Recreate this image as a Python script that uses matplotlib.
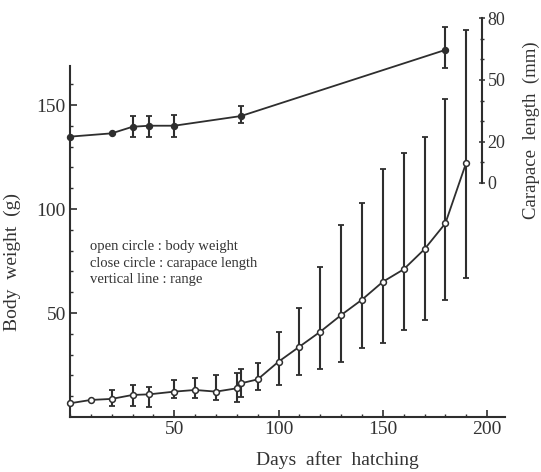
import numpy as np
import matplotlib.pyplot as plt
from matplotlib.ticker import MultipleLocator, FixedLocator

plt.rcParams['font.family'] = ['Liberation Serif', 'DejaVu Serif']

# body weight (open circles), g
bw_days = [0, 10, 20, 30, 38, 50, 60, 70, 80, 82, 90, 100, 110, 120, 130, 140, 150, 160, 170, 180, 190]
bw_mean = [6.6, 8.2, 8.7, 10.6, 10.9, 12.2, 13.0, 12.2, 13.8, 16.2, 18.1, 26.6, 33.8, 41.0, 49.0,
           56.4, 65.0, 71.0, 80.7, 93.1, 122.3]
bw_hi = [np.nan, np.nan, 13.0, 15.4, 14.3, 17.8, 18.6, 20.2, 21.0, 22.9, 26.1, 41.0, 52.3, 72.3, 92.3,
         102.7, 119.1, 126.8, 134.8, 152.7, 186.1]
bw_lo = [np.nan, np.nan, 5.3, 5.3, 5.0, 9.1, 9.0, 8.2, 7.4, 9.8, 13.0, 15.4, 20.2, 22.9, 26.6,
         33.0, 35.4, 41.8, 46.6, 56.3, 66.7]

# carapace length (close circles), mm
cl_days = [0, 20, 30, 38, 50, 82, 180]
cl_mean = [22.5, 24.1, 27.3, 27.8, 27.8, 32.5, 64.6]
cl_hi = [np.nan, np.nan, 32.5, 32.5, 33.1, 37.4, 75.9]
cl_lo = [np.nan, np.nan, 22.2, 22.3, 22.4, 29.0, 55.7]

ink = '#2e2e2e'
txt = '#333333'

fig = plt.figure(figsize=(5.41, 4.72), dpi=100, facecolor='white')
ax = fig.add_axes([70 / 541, 55 / 472, 435 / 541, 402 / 472])
ax.set_xlim(0, 208.6)
ax.set_ylim(0, 193.3)
ax.patch.set_alpha(0)

def plot_series(a, days, mean, lo, hi, face):
    days = np.array(days, float)
    mean = np.array(mean, float)
    lo = np.array(lo, float)
    hi = np.array(hi, float)
    a.plot(days, mean, color=ink, lw=1.3, zorder=2)
    ok = ~np.isnan(lo)
    a.errorbar(days[ok], mean[ok], yerr=[mean[ok] - lo[ok], hi[ok] - mean[ok]], fmt='none',
               ecolor=ink, elinewidth=1.5, capsize=2.5, capthick=1.3, zorder=1, clip_on=False)
    a.plot(days, mean, 'o', ms=4.2, mfc=face, mec=ink, mew=1.1, zorder=3, clip_on=False)

plot_series(ax, bw_days, bw_mean, bw_lo, bw_hi, 'white')

for s in ['top', 'right']:
    ax.spines[s].set_visible(False)
ax.spines['left'].set_bounds(0, 169)
for s in ['left', 'bottom']:
    ax.spines[s].set_linewidth(1.5)
    ax.spines[s].set_color(ink)

ax.set_xticks([50, 100, 150, 200])
ax.xaxis.set_minor_locator(MultipleLocator(10))
ax.set_yticks([50, 100, 150])
ax.yaxis.set_minor_locator(FixedLocator(np.arange(10, 170, 10)))
ax.tick_params(which='major', direction='in', length=5, width=1.2, color=ink,
               labelsize=14, labelcolor=txt, pad=3)
ax.tick_params(which='minor', direction='in', length=2.5, width=1, color=ink)

ax.set_xlabel('Days  after  hatching', fontsize=14, color=txt)
ax.xaxis.set_label_coords(0.614, -0.086)
ax.set_ylabel('Body  weight  (g)', fontsize=14, color=txt)
ax.yaxis.set_label_coords(-0.112, 0.386)

ax.text(0.045, 0.44, 'open circle : body weight\nclose circle : carapace length\nvertical line : range',
        transform=ax.transAxes, fontsize=10.5, color=txt, va='top', ha='left', linespacing=1.35)

# carapace length axis
ax2 = ax.twinx()
ax2.set_ylim(-113.6, 81.55)
ax2.set_xlim(0, 208.6)
plot_series(ax2, cl_days, cl_mean, cl_lo, cl_hi, ink)
for s in ['top', 'left', 'bottom']:
    ax2.spines[s].set_visible(False)
ax2.spines['right'].set_position(('axes', (482 - 70) / 435))
ax2.spines['right'].set_bounds(0, 80)
ax2.spines['right'].set_linewidth(1.5)
ax2.spines['right'].set_color(ink)
ax2.set_yticks([0, 20, 50, 80])
ax2.yaxis.set_minor_locator(FixedLocator(np.arange(10, 80, 10)))
ax2.tick_params(which='major', direction='inout', length=4, width=1.1, color=ink,
                labelsize=13, labelcolor=txt, pad=2)
ax2.tick_params(which='minor', direction='inout', length=3, width=1, color=ink)
ax2.set_ylabel('Carapace  length  (mm)', fontsize=13.5, color=txt)
ax2.yaxis.set_label_coords(1.04, 0.714)

fig.savefig('out.png', dpi=100, facecolor='white')
